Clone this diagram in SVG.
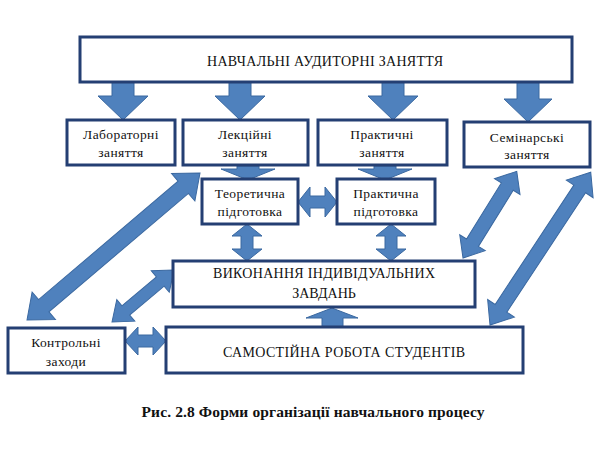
<svg xmlns="http://www.w3.org/2000/svg" width="600" height="454" viewBox="0 0 600 454" font-family="Liberation Serif, Times New Roman, serif">
<style>
.box{fill:#fff;stroke:#243f73;stroke-width:3}
.arr{fill:#4f81bd;stroke:#3a68a0;stroke-width:1;stroke-linejoin:miter}
text{fill:#111;text-anchor:middle}
.t{font-size:14px}
.s{font-size:13.5px;letter-spacing:0.4px}
.cap{font-size:15.5px;font-weight:bold}
</style>
<rect width="600" height="454" fill="#fff"/>
<g id="connectors">
  <polygon class="arr" points="112,82 134,82 134,96 148,96 123,120 98,96 112,96"/>
  <polygon class="arr" points="229,82 251,82 251,96 265,96 240,120 215,96 229,96"/>
  <polygon class="arr" points="382,82 404,82 404,96 418,96 393,120 368,96 382,96"/>
  <polygon class="arr" points="517,82 539,82 539,99 552,99 528,122 504,99 517,99"/>
  <polygon class="arr" points="237,166 259,166 259,169 275,169 248,180 221,169 237,169"/>
  <polygon class="arr" points="374,166 396,166 396,169 412,169 385,180 358,169 374,169"/>
  <polygon class="arr" points="322,327 343,327 343,318 358,318 332,308 306,318 322,318"/>
  <polygon class="arr" points="298,202 310,187 310,196 325,196 325,187 337,202 325,217 325,208 310,208 310,217"/>
  <polygon class="arr" points="125,341 138,327 138,335 153,335 153,327 166,341 153,355 153,347 138,347 138,355"/>
  <polygon class="arr" points="247,224 262,236 253,236 253,249 262,249 247,261 232,249 241,249 241,236 232,236"/>
  <polygon class="arr" points="391,224 406,236 397,236 397,249 406,249 391,261 376,249 385,249 385,236 376,236"/>
  <g transform="translate(27,320) rotate(-40.35)">
    <polygon class="arr" points="0,0 22,-18 22,-8 205,-8 205,-18 227,0 205,18 205,8 22,8 22,18"/>
  </g>
  <g transform="translate(112,322) rotate(-40)">
    <polygon class="arr" points="0,0 18,-14 18,-6 63,-6 63,-14 81,0 63,14 63,6 18,6 18,14"/>
  </g>
  <g transform="translate(463,258) rotate(-58.2)">
    <polygon class="arr" points="0,0 18,-15 18,-7 84,-7 84,-15 102,0 84,15 84,7 18,7 18,15"/>
  </g>
  <g transform="translate(490,325) rotate(-56.6)">
    <polygon class="arr" points="0,0 20,-16 20,-7 163,-7 163,-16 183,0 163,16 163,7 20,7 20,16"/>
  </g>
</g>
<g id="top">
  <rect class="box" x="80" y="37" width="492" height="45"/>
  <text class="t" x="325" y="66" textLength="236">НАВЧАЛЬНІ АУДИТОРНІ ЗАНЯТТЯ</text>
</g>
<g id="lab">
  <rect class="box" x="67" y="120" width="108" height="45"/>
  <text class="s" x="121" y="139">Лабораторні</text>
  <text class="s" x="121" y="157">заняття</text>
</g>
<g id="lect">
  <rect class="box" x="183" y="120" width="125" height="45"/>
  <text class="s" x="245" y="139">Лекційні</text>
  <text class="s" x="245" y="157">заняття</text>
</g>
<g id="pract">
  <rect class="box" x="318" y="120" width="129" height="45"/>
  <text class="s" x="382" y="139">Практичні</text>
  <text class="s" x="382" y="157">заняття</text>
</g>
<g id="sem">
  <rect class="box" x="464" y="122" width="126" height="45"/>
  <text class="s" x="527" y="142">Семінарські</text>
  <text class="s" x="527" y="159">заняття</text>
</g>
<g id="theor">
  <rect class="box" x="202" y="179" width="96" height="45"/>
  <text class="s" x="250" y="198">Теоретична</text>
  <text class="s" x="250" y="216">підготовка</text>
</g>
<g id="prep">
  <rect class="box" x="337" y="179" width="98" height="45"/>
  <text class="s" x="386" y="198">Практична</text>
  <text class="s" x="386" y="216">підготовка</text>
</g>
<g id="vyk">
  <rect class="box" x="173" y="261" width="302" height="46"/>
  <text class="t" x="324" y="278" textLength="222">ВИКОНАННЯ ІНДИВІДУАЛЬНИХ</text>
  <text class="t" x="324" y="298">ЗАВДАНЬ</text>
</g>
<g id="control">
  <rect class="box" x="8" y="328" width="117" height="45"/>
  <text class="s" x="66" y="347">Контрольні</text>
  <text class="s" x="66" y="366">заходи</text>
</g>
<g id="self">
  <rect class="box" x="166" y="327" width="357" height="46"/>
  <text class="t" x="344" y="357" textLength="242">САМОСТІЙНА РОБОТА СТУДЕНТІВ</text>
</g>
<text class="cap" x="313" y="417" textLength="343">Рис. 2.8 Форми організації навчального процесу</text>
</svg>
